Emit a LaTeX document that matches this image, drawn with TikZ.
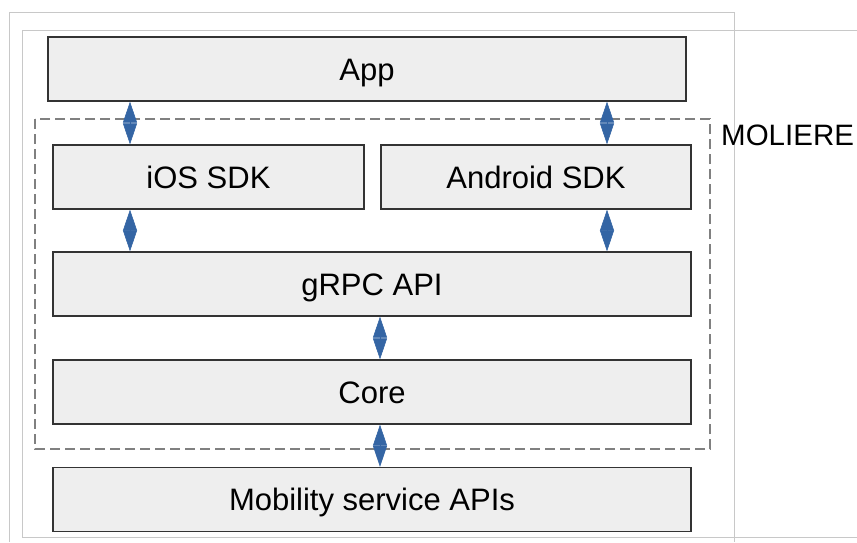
\documentclass[tikz,border=0pt]{standalone}
\usepackage{fontspec}
\setmainfont{Liberation Sans}
\usetikzlibrary{arrows.meta}
\definecolor{boxfill}{HTML}{EEEEEE}
\definecolor{boxline}{HTML}{333333}
\definecolor{linkblue}{HTML}{3465A4}
\definecolor{pageline}{HTML}{C8C8C8}
\begin{document}
\begin{tikzpicture}[x=1pt,y=-1pt,
	layer/.style={draw=boxline, fill=boxfill, line width=1.2pt, minimum height=64pt, inner sep=0pt, text height=22pt, text depth=0pt, font=\fontsize{31}{34}\selectfont},
	link/.style={draw=linkblue, fill=linkblue, line width=0.6pt, {Triangle[length=21pt,width=14pt]}-{Triangle[length=21pt,width=14pt]}}]
	\useasboundingbox (0,0) rectangle (857,542);
	% page frame
	\draw[pageline, line width=1pt] (9,542) -- (9,12) -- (734,12) -- (734,542);
	\draw[pageline, line width=1pt] (857,30) -- (22,30) -- (22,537) -- (857,537);
	% module boundary
	\draw[gray, line width=1.3pt, dash pattern=on 10pt off 5pt] (35,119) rectangle (710,449);
	\node[font=\fontsize{29.5}{33}\selectfont, anchor=base west, inner sep=0pt] (moliere) at (721,145) {MOLIERE};
	
	\node[layer, minimum width=638pt] (app)      at (367,69)    {App};
	\node[layer, minimum width=311pt] (ios)      at (208.5,177) {iOS SDK};
	\node[layer, minimum width=310pt] (android)  at (536,177)   {Android SDK};
	\node[layer, minimum width=638pt] (grpc)     at (372,284)   {gRPC API};
	\node[layer, minimum width=638pt] (core)     at (372,392)   {Core};
	\node[layer, minimum width=638pt] (mobility) at (372,499.5) {Mobility service APIs};
	
	\coordinate (lx) at (130,0);
	\coordinate (rx) at (607,0);
	\coordinate (mx) at (380,0);
	\foreach \u\v\x in {app/ios/lx, app/android/rx, ios/grpc/lx, android/grpc/rx, grpc/core/mx, core/mobility/mx}
	{	\draw[link] (\u.south -| \x) -- (\v.north -| \x);
	}
\end{tikzpicture}
\end{document}
